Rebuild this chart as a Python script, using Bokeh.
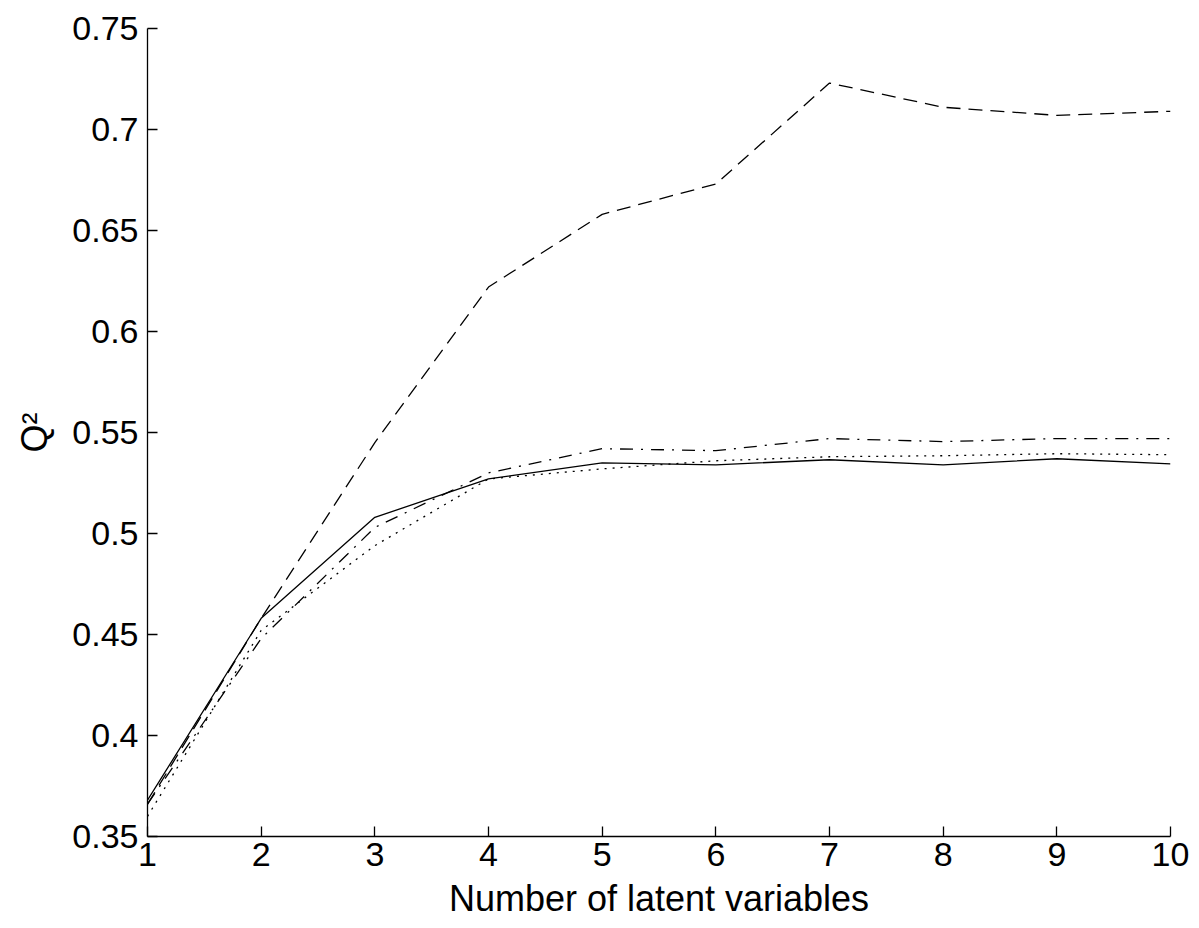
from bokeh.plotting import figure
from bokeh.models import FixedTicker, Range1d
from bokeh.embed import file_html
from bokeh.resources import INLINE

x = [1, 2, 3, 4, 5, 6, 7, 8, 9, 10]
solid = [0.368, 0.458, 0.508, 0.527, 0.535, 0.534, 0.5365, 0.534, 0.537, 0.5345]
dashed = [0.366, 0.458, 0.545, 0.622, 0.658, 0.673, 0.723, 0.711, 0.707, 0.709]
dashdot = [0.366, 0.448, 0.503, 0.530, 0.542, 0.541, 0.547, 0.5455, 0.547, 0.547]
dotted = [0.360, 0.452, 0.494, 0.527, 0.532, 0.536, 0.538, 0.5385, 0.5395, 0.539]

x_ticks = [1, 2, 3, 4, 5, 6, 7, 8, 9, 10]
y_ticks = [0.35, 0.4, 0.45, 0.5, 0.55, 0.6, 0.65, 0.7, 0.75]
y_tick_labels = ["0.35", "0.4", "0.45", "0.5", "0.55", "0.6", "0.65", "0.7", "0.75"]

FONT = "Liberation Sans"

p = figure(width=1191, height=920, output_backend="svg", toolbar_location=None,
           x_range=Range1d(1, 10), y_range=Range1d(0.35, 0.75),
           min_border_left=147, min_border_right=21, min_border_top=28, min_border_bottom=84)
p.frame_width = 1023
p.frame_height = 808
p.outline_line_color = None
p.background_fill_color = "white"
p.border_fill_color = "white"
p.grid.visible = False

common = dict(line_color="black", line_width=1.3)
p.line(x, solid, **common)
p.line(x, dashed, line_dash="14 8", **common)
p.line(x, dashdot, line_dash="13 8 2 8", **common)
p.line(x, dotted, line_dash="2 6", **common)

p.xaxis.ticker = FixedTicker(ticks=x_ticks)
p.yaxis.ticker = FixedTicker(ticks=y_ticks)
p.yaxis.major_label_overrides = {t: l for t, l in zip(y_ticks, y_tick_labels)}
p.xaxis.major_label_overrides = {t: str(t) for t in x_ticks}

for ax in (p.xaxis[0], p.yaxis[0]):
    ax.axis_line_color = "black"
    ax.axis_line_width = 1.3
    ax.major_tick_line_color = "black"
    ax.major_tick_line_width = 1.3
    ax.major_tick_in = 10
    ax.major_tick_out = 0
    ax.minor_tick_line_color = None
    ax.major_label_text_font = FONT
    ax.major_label_text_font_size = "34px"
    ax.major_label_text_color = "black"
    ax.axis_label_text_font = FONT
    ax.axis_label_text_font_size = "36px"
    ax.axis_label_text_font_style = "normal"
    ax.axis_label_text_color = "black"

p.xaxis.axis_label = "Number of latent variables"
p.yaxis.axis_label = "Q²"
p.xaxis.major_label_standoff = 6
p.yaxis.major_label_standoff = 9
p.xaxis.axis_label_standoff = 9
p.yaxis.axis_label_standoff = 14

open("out.html", "w").write(file_html(p, INLINE))
